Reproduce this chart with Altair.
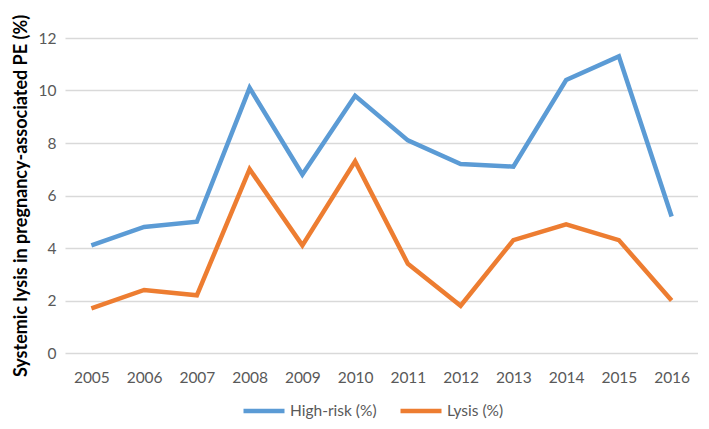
import altair as alt
import pandas as pd

years = ["2005", "2006", "2007", "2008", "2009", "2010", "2011", "2012", "2013", "2014", "2015", "2016"]
high_risk = [4.1, 4.8, 5.0, 10.1, 6.8, 9.8, 8.1, 7.2, 7.1, 10.4, 11.3, 5.2]
lysis = [1.7, 2.4, 2.2, 7.0, 4.1, 7.3, 3.4, 1.8, 4.3, 4.9, 4.3, 2.0]
series_names = ["High-risk (%)", "Lysis (%)"]
colors = ["#5B9BD5", "#ED7D31"]

rows = []
for y, a, b in zip(years, high_risk, lysis):
    rows.append({"year": y, "series": series_names[0], "value": a})
    rows.append({"year": y, "series": series_names[1], "value": b})
df = pd.DataFrame(rows)

FONT = "Lato"

chart = alt.Chart(df).mark_line(strokeWidth=4.5, strokeJoin="miter", strokeCap="butt").encode(
    x=alt.X("year:O", sort=years, title=None,
            axis=alt.Axis(labelAngle=0, ticks=False, domain=False, grid=False,
                          labelFont=FONT, labelFontSize=15.5, labelColor="#595959",
                          labelPadding=17)),
    y=alt.Y("value:Q", scale=alt.Scale(domain=[0, 12], nice=False),
            title="Systemic lysis in pregnancy-associated PE (%)",
            axis=alt.Axis(values=[0, 2, 4, 6, 8, 10, 12], ticks=False, domain=False,
                          grid=True, gridColor="#d9d9d9", gridWidth=1.5,
                          labelFont=FONT, labelFontSize=15.5, labelColor="#595959",
                          labelPadding=9, titleFont=FONT, titleFontSize=18,
                          titleFontWeight="bold", titleColor="#000000",
                          titlePadding=8)),
    color=alt.Color("series:N", sort=series_names,
                    scale=alt.Scale(domain=series_names, range=colors),
                    legend=alt.Legend(title=None, orient="none", direction="horizontal",
                                      legendX=176, legendY=350,
                                      symbolType="stroke", symbolSize=1681,
                                      symbolStrokeWidth=4.5, labelFont=FONT,
                                      labelFontSize=15.5, labelColor="#595959",
                                      labelOffset=3, columnPadding=14)),
).properties(
    width=633, height=315,
    padding={"left": 57, "top": 30, "right": 0, "bottom": 67},
    autosize=alt.AutoSizeParams(type="none"),
).configure_view(stroke=None)

chart.save("out.html", embed_options={"renderer": "svg", "actions": False})
